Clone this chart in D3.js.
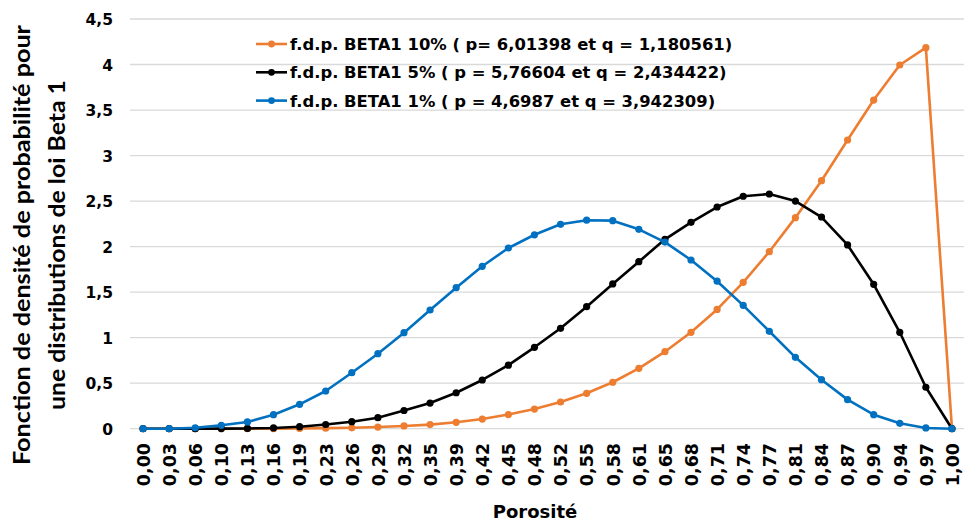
<!DOCTYPE html>
<html>
<head>
<meta charset="utf-8">
<script src="https://cdn.jsdelivr.net/npm/d3@7"></script>
<style>
  html, body { margin: 0; padding: 0; background: #fff; }
  svg { display: block; }
</style>
</head>
<body>
<svg id="chart" width="964" height="524"></svg>
<script>
const categories = ["0,00","0,03","0,06","0,10","0,13","0,16","0,19","0,23","0,26","0,29","0,32","0,35","0,39","0,42","0,45","0,48","0,52","0,55","0,58","0,61","0,65","0,68","0,71","0,74","0,77","0,81","0,84","0,87","0,90","0,94","0,97","1,00"];

const beta10 = [0, 0, 0, 0, 0, 0.001, 0.003, 0.006, 0.01, 0.018, 0.03, 0.045, 0.07, 0.106, 0.155, 0.216, 0.293, 0.389, 0.51, 0.663, 0.846, 1.059, 1.31, 1.608, 1.944, 2.318, 2.724, 3.171, 3.61, 3.995, 4.185, 0];
const beta5 = [0, 0, 0, 0.001, 0.003, 0.008, 0.022, 0.046, 0.077, 0.121, 0.2, 0.282, 0.395, 0.535, 0.698, 0.894, 1.103, 1.34, 1.59, 1.834, 2.08, 2.267, 2.435, 2.553, 2.578, 2.5, 2.325, 2.018, 1.586, 1.059, 0.455, 0];
const beta1 = [0, 0, 0.01, 0.037, 0.074, 0.154, 0.268, 0.414, 0.615, 0.824, 1.055, 1.304, 1.549, 1.784, 1.985, 2.13, 2.245, 2.29, 2.285, 2.19, 2.05, 1.853, 1.62, 1.355, 1.07, 0.784, 0.538, 0.319, 0.154, 0.059, 0.008, 0];

const seriesNames = [
  "f.d.p. BETA1 10% ( p= 6,01398 et q = 1,180561)",
  "f.d.p. BETA1 5% ( p = 5,76604 et q = 2,434422)",
  "f.d.p. BETA1 1% ( p = 4,6987 et q = 3,942309)"
];
const seriesColors = ["#ED7D31", "#000000", "#0070C0"];
const yTicks = [0, 0.5, 1, 1.5, 2, 2.5, 3, 3.5, 4, 4.5];
const xTitle = "Porosité";
const yTitleLines = ["Fonction de densité de probabilité pour", "une distributions de loi Beta 1"];

const series = [beta10, beta5, beta1].map((v, i) => ({ name: seriesNames[i], color: seriesColors[i], values: v }));

const svg = d3.select("#chart");
const FONT = "'DejaVu Sans', Verdana, sans-serif";

const x = d3.scalePoint().domain(categories).range([130, 965]).padding(0.5);
const y = d3.scaleLinear().domain([0, 4.5]).range([428.7, 19]);

const fmt = v => String(v).replace(".", ",");

// gridlines
svg.append("g").selectAll("line").data(yTicks).join("line")
  .attr("x1", 130).attr("x2", 965)
  .attr("y1", d => y(d)).attr("y2", d => y(d))
  .attr("stroke", "#d9d9d9").attr("stroke-width", 1.3);

// y axis labels
const yAxis = d3.axisLeft(y).tickValues(yTicks).tickFormat(fmt).tickSize(0).tickPadding(0);
const gy = svg.append("g").attr("transform", "translate(113,0)").call(yAxis);
gy.select(".domain").remove();
gy.selectAll("text").attr("font-family", FONT).attr("font-weight", "bold")
  .attr("font-size", 15.5).attr("fill", "#000").attr("dy", "0.36em");

// x axis labels
const xAxis = d3.axisBottom(x).tickSize(0).tickPadding(0);
const gx = svg.append("g").attr("transform", "translate(0,443)").call(xAxis);
gx.select(".domain").remove();
gx.selectAll("text")
  .attr("font-family", FONT).attr("font-weight", "bold").attr("font-size", 17.5).attr("fill", "#000")
  .attr("transform", "rotate(-90)")
  .attr("text-anchor", "end")
  .attr("x", 0).attr("y", 0).attr("dy", "0.36em");

// lines
const line = d3.line().x((d, i) => x(categories[i])).y(d => y(d));
const gs = svg.append("g");
series.forEach(s => {
  const g = gs.append("g");
  g.append("path").datum(s.values).attr("d", line)
    .attr("fill", "none").attr("stroke", s.color).attr("stroke-width", 2.6).attr("stroke-linejoin", "round");
  g.selectAll("circle").data(s.values).join("circle")
    .attr("cx", (d, i) => x(categories[i])).attr("cy", d => y(d)).attr("r", 3.6)
    .attr("fill", s.color);
});

// legend
const lg = svg.append("g");
series.forEach((s, i) => {
  const cy = 44 + i * 28.3;
  lg.append("line").attr("x1", 256).attr("x2", 287).attr("y1", cy).attr("y2", cy)
    .attr("stroke", s.color).attr("stroke-width", 2.6);
  lg.append("circle").attr("cx", 271.5).attr("cy", cy).attr("r", 3.4).attr("fill", s.color);
  lg.append("text").attr("x", 290).attr("y", cy).attr("dy", "0.36em")
    .attr("font-family", FONT).attr("font-weight", "bold").attr("font-size", 16.4)
    .attr("fill", "#000").text(s.name);
});

// x title
svg.append("text").attr("x", 535).attr("y", 518).attr("text-anchor", "middle")
  .attr("font-family", FONT).attr("font-weight", "bold").attr("font-size", 18).attr("fill", "#000")
  .text(xTitle);

// y title
const yt = svg.append("text").attr("transform", "translate(0,245) rotate(-90)")
  .attr("text-anchor", "middle").attr("font-family", "Lato, 'Open Sans', sans-serif")
  .attr("font-weight", "bold").attr("font-size", 23.5).attr("fill", "#000");
const yLens = [440, 330];
yTitleLines.forEach((t, i) => {
  yt.append("tspan").attr("x", 0).attr("y", 30 + i * 35)
    .attr("textLength", yLens[i]).attr("lengthAdjust", "spacingAndGlyphs").text(t);
});
</script>
</body>
</html>
